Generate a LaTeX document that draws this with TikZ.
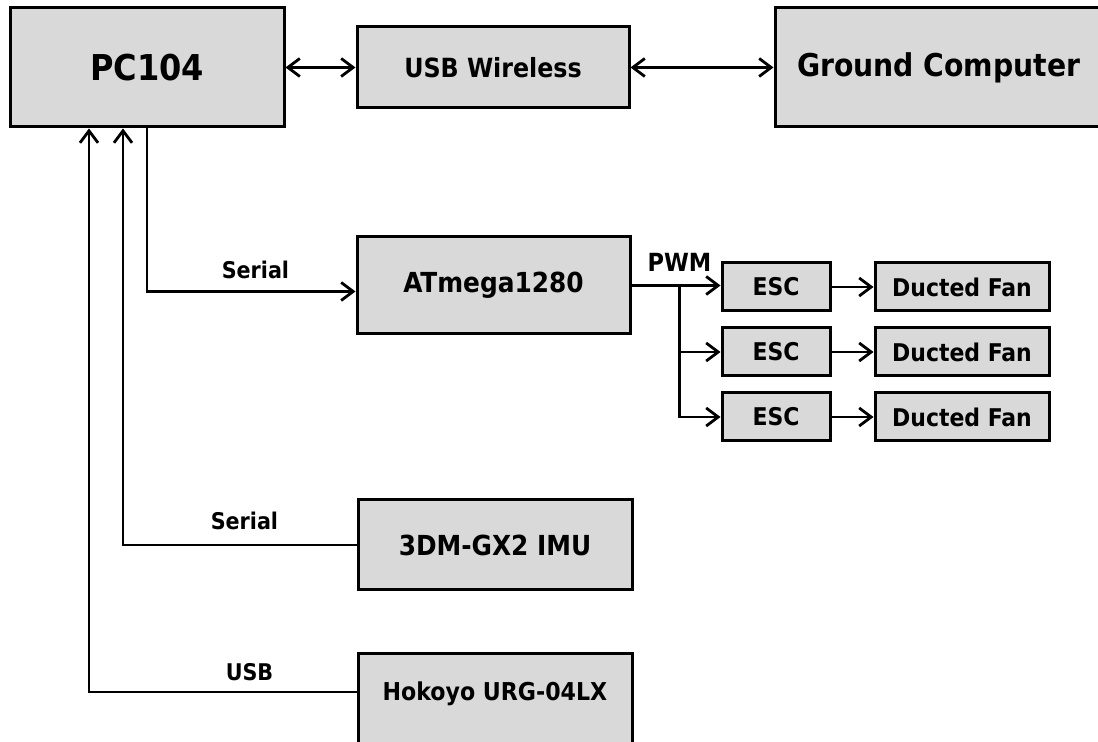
\documentclass[tikz,border=0pt]{standalone}
\usepackage{fontspec}
\setmainfont{DejaVu Sans Condensed}[BoldFont={DejaVu Sans Condensed Bold}]
\usetikzlibrary{arrows.meta}

\begin{document}
\begin{tikzpicture}[
  x=0.5pt,
  y=-0.5pt,
  block/.style={
    draw,
    fill=gray!30,
    line width=1.5pt,
    inner sep=0pt,
    font=\bfseries
  },
  link/.style={
    line width=1.4pt,
    -{Straight Barb[length=6pt,width=9pt,line width=1.4pt]}
  },
  both link/.style={
    link,
    {Straight Barb[length=6pt,width=9pt,line width=1.4pt]}-{Straight Barb[length=6pt,width=9pt,line width=1.4pt]}
  },
  tag/.style={
    font=\bfseries\fontsize{11.5}{13}\selectfont,
    inner sep=3pt
  },
]
\useasboundingbox (0,0) rectangle (1098,742);
\node[block, minimum width=137pt, minimum height=59.5pt,
  font=\bfseries\fontsize{17.8}{20}\selectfont] (pc) at (147,67.5) {PC104};
\node[block, minimum width=136pt, minimum height=40.5pt,
  font=\bfseries\fontsize{13.2}{15}\selectfont] (usbw) at (493,67.5) {USB Wireless};
\node[block, draw=none, outer sep=0pt, minimum height=59.5pt,
  font=\bfseries\fontsize{15.7}{18}\selectfont] (ground) at (975,67.5)
  {\makebox[200pt][l]{\hspace*{11pt}Ground Computer}};
\draw[line width=1.5pt] (ground.north east) -- (ground.north west)
  -- (ground.south west) -- (ground.south east);
\node[block, minimum width=136.5pt, minimum height=48.5pt,
  font=\bfseries\fontsize{13.8}{16}\selectfont] (atmega) at (493.5,285.5) {ATmega1280};
\node[block, minimum width=137pt, minimum height=45pt,
  font=\bfseries\fontsize{13.8}{16}\selectfont] (imu) at (495,545) {3DM-GX2 IMU};
\node[block, minimum width=137pt, minimum height=56pt,
  font=\bfseries\fontsize{12.3}{14}\selectfont] (hok) at (495,710)
  {\raisebox{4.8pt}[0pt][0pt]{Hokoyo URG-04LX}};
\foreach \i/\y in {1/287, 2/352, 3/417} {
  \node[block, minimum width=54pt, minimum height=24pt,
    font=\bfseries\fontsize{12.2}{14}\selectfont] (esc\i) at (776,\y) {ESC};
  \node[block, minimum width=87pt, minimum height=24pt,
    font=\bfseries\fontsize{12.2}{14}\selectfont] (fan\i) at (962,\y) {Ducted Fan};
  \draw[link] (esc\i) -- (fan\i);
}
\coordinate (split) at ([xshift=24pt]atmega.east);
\draw[both link] (pc) -- (usbw);
\draw[both link] (usbw) -- ([xshift=-0.75pt]ground.west);
\draw[link] (pc.south) |- node[tag, pos=0.76, above=2.5pt] {Serial} ([yshift=-3pt]atmega.west);
\draw[link] (imu.west) -| node[tag, pos=0.24, above=4pt] {Serial} ([xshift=-12pt]pc.south);
\draw[link] ([yshift=9pt]hok.west) -| node[tag, pos=0.2, above=2pt] {USB} ([xshift=-29pt]pc.south);
\draw[line width=1.4pt] (atmega.east) -- (split)
  node[tag, above=3.5pt, font=\bfseries\fontsize{12.5}{14}\selectfont] {PWM};
\draw[link] (split) -- (split -| esc1.west);
\draw[link] (split) |- (esc2.west);
\draw[link] (split) |- (esc3.west);
\end{tikzpicture}
\end{document}
